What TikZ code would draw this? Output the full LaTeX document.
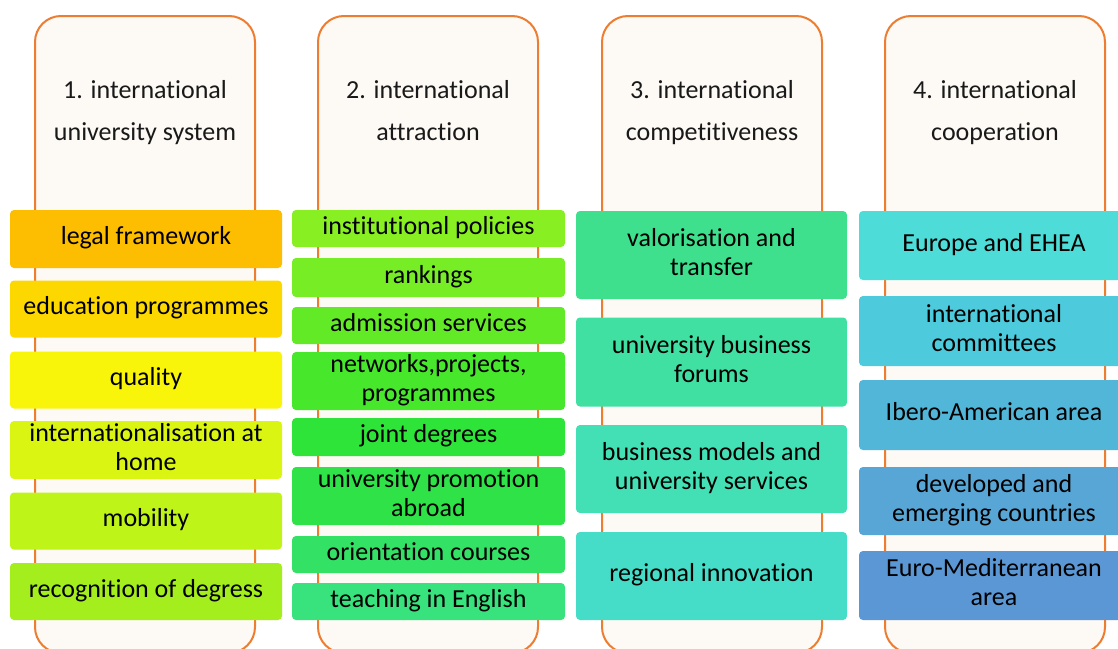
\documentclass[tikz,border=0pt]{standalone}
\usepackage{fontspec}
\setmainfont{Carlito}[Ligatures={NoCommon}]
\begin{document}
\begin{tikzpicture}[x=1pt,y=-1pt,
  colbox/.style={draw=orangeline,line width=2pt,fill=cream,rounded corners=26pt,
    minimum width=220pt,minimum height=637pt,inner sep=0pt},
  head/.style={align=center,font=\fontsize{26}{42}\selectfont,inner sep=0pt,text=black!90},
  item/.style={fill=#1,rounded corners=4pt,inner sep=0pt,align=center,
    minimum width=272pt,font=\fontsize{26}{29}\selectfont,text=black}]
\definecolor{orangeline}{HTML}{ED7D31}
\definecolor{cream}{HTML}{FDF9F4}
\definecolor{a1}{HTML}{FDBD00}\definecolor{a2}{HTML}{FDD800}\definecolor{a3}{HTML}{F9F50A}
\definecolor{a4}{HTML}{DBF512}\definecolor{a5}{HTML}{BEF418}\definecolor{a6}{HTML}{A4EE1D}
\definecolor{b1}{HTML}{88EF22}\definecolor{b2}{HTML}{76ED24}\definecolor{b3}{HTML}{63EA27}
\definecolor{b4}{HTML}{47E72C}\definecolor{b5}{HTML}{2EE438}\definecolor{b6}{HTML}{2FE248}
\definecolor{b7}{HTML}{33E265}\definecolor{b8}{HTML}{38E27C}
\definecolor{c1}{HTML}{3EE08E}\definecolor{c2}{HTML}{40E0A3}\definecolor{c3}{HTML}{43E0B5}
\definecolor{c4}{HTML}{46DDC8}
\definecolor{d1}{HTML}{4EDCD9}\definecolor{d2}{HTML}{4DCADB}\definecolor{d3}{HTML}{52B6D8}
\definecolor{d4}{HTML}{58A6D6}\definecolor{d5}{HTML}{5B97D4}
\path[use as bounding box,clip] (0,0) rectangle (1118,648);
\fill[white] (0,0) rectangle (1118,648);
% tall column boxes
\node[colbox] (k1) at (145,334.5) {};
\node[colbox] (k2) at (428,334.5) {};
\node[colbox] (k3) at (712,334.5) {};
\node[colbox] (k4) at (995,334.5) {};
\node[head] (h1) at (145,111) {1. international\strut\\university system\strut};
\node[head] (h2) at (428,111) {2. international\strut\\attraction\strut};
\node[head] (h3) at (712,111) {3. international\strut\\competitiveness\strut};
\node[head] (h4) at (995,111) {4. international\strut\\cooperation\strut};
% column 1
\node[item=a1,minimum height=58pt] (p1) at (146,239) {legal framework\strut};
\node[item=a2,minimum height=57pt] (p2) at (146,309) {education programmes\strut};
\node[item=a3,minimum height=57pt] (p3) at (146,380) {quality\strut};
\node[item=a4,minimum height=57pt] (p4) at (146,450) {internationalisation at\strut\\home\strut};
\node[item=a5,minimum height=57pt] (p5) at (146,521) {mobility\strut};
\node[item=a6,minimum height=57pt] (p6) at (146,591.5) {recognition of degress\strut};
% column 2
\node[item=b1,minimum width=273pt,minimum height=37pt] (q1) at (428.5,228.5) {institutional policies\strut};
\node[item=b2,minimum width=273pt,minimum height=39pt] (q2) at (428.5,277.5) {rankings\strut};
\node[item=b3,minimum width=273pt,minimum height=37pt] (q3) at (428.5,325.5) {admission services\strut};
\node[item=b4,minimum width=273pt,minimum height=54pt] (q4) at (428.5,381) {networks,projects,\strut\\programmes\strut};
\node[item=b5,minimum width=273pt,minimum height=38pt] (q5) at (428.5,437) {joint degrees\strut};
\node[item=b6,minimum width=273pt,minimum height=58pt] (q6) at (428.5,496) {university promotion\strut\\abroad\strut};
\node[item=b7,minimum width=273pt,minimum height=37pt] (q7) at (428.5,554.5) {orientation courses\strut};
\node[item=b8,minimum width=273pt,minimum height=37pt] (q8) at (428.5,601.5) {teaching in English\strut};
% column 3
\node[item=c1,minimum width=271pt,minimum height=88pt] (r1) at (711.5,255) {valorisation and\strut\\transfer\strut};
\node[item=c2,minimum width=271pt,minimum height=89pt] (r2) at (711.5,362) {university business\strut\\forums\strut};
\node[item=c3,minimum width=271pt,minimum height=88pt] (r3) at (711.5,469) {business models and\strut\\university services\strut};
\node[item=c4,minimum width=271pt,minimum height=88pt] (r4) at (711.5,576) {regional innovation\strut};
% column 4
\node[item=d1,minimum width=270pt,minimum height=69pt] (s1) at (994,245.5) {Europe and EHEA\strut};
\node[item=d2,minimum width=270pt,minimum height=70pt] (s2) at (994,331) {international\strut\\committees\strut};
\node[item=d3,minimum width=270pt,minimum height=70pt] (s3) at (994,415) {Ibero-American area\strut};
\node[item=d4,minimum width=270pt,minimum height=68pt] (s4) at (994,501) {developed and\strut\\emerging countries\strut};
\node[item=d5,minimum width=270pt,minimum height=69pt] (s5) at (994,585.5) {Euro-Mediterranean\strut\\area\strut};
\end{tikzpicture}
\end{document}
